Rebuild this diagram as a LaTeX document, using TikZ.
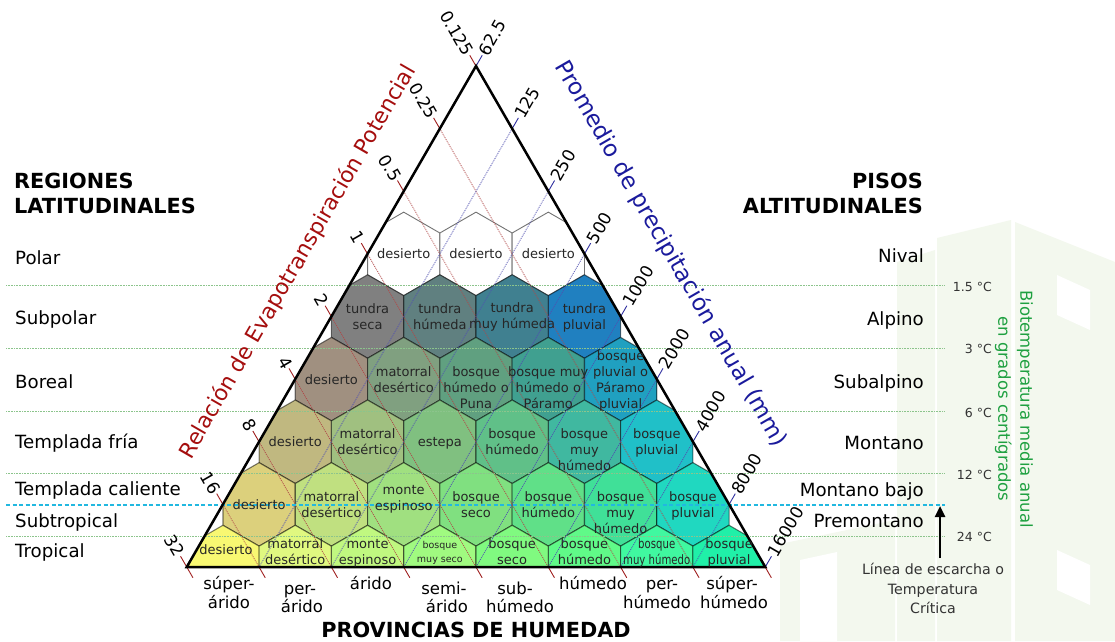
\documentclass[tikz,border=0pt]{standalone}
\usepackage{fontspec}
\setmainfont{DejaVu Sans}
\usepackage{graphicx}
\usetikzlibrary{arrows.meta}
\definecolor{tickred}{HTML}{A02020}
\definecolor{lred}{HTML}{B04848}
\definecolor{tickblue}{HTML}{3030A0}
\definecolor{lblue}{HTML}{5050B0}
\definecolor{titlered}{HTML}{A50E0E}
\definecolor{titleblue}{HTML}{1A1A9C}
\definecolor{gline}{HTML}{8CC48C}
\definecolor{cyanline}{HTML}{22B8E0}
\definecolor{tempgreen}{HTML}{1EA040}
\definecolor{wmark}{HTML}{F3F8EE}
\newcommand\hexfont{\fontsize{13}{16}\selectfont}
\newcommand\hexfontb{\fontsize{13}{15.5}\selectfont}
\newcommand\hexfontc{\fontsize{9.5}{14}\selectfont}
\newcommand\regfont{\fontsize{18.2}{21}\selectfont}
\newcommand\headfont{\fontsize{20.8}{24}\selectfont\bfseries}
\newcommand\tickfont{\fontsize{17}{20}\selectfont}
\newcommand\provfont{\fontsize{16.5}{20}\selectfont}
\newcommand\tempfont{\fontsize{12.5}{15}\selectfont}
\newcommand\notefont{\fontsize{14.2}{19.5}\selectfont}
\newcommand{\hexcell}[4]{%
  \pgfmathsetmacro\hcx{476-(#2+1)*36.15+#3*72.3}%
  \pgfmathsetmacro\hcy{66+(#2+2)*62.625}%
  \definecolor{hexfill}{HTML}{#4}%
  \filldraw[#1, fill=hexfill] (\hcx,\hcy-41.74) -- (\hcx+36.15,\hcy-20.87) -- (\hcx+36.15,\hcy+20.87) -- (\hcx,\hcy+41.74) -- (\hcx-36.15,\hcy+20.87) -- (\hcx-36.15,\hcy-20.87) -- cycle;}
\newcommand{\hexlab}[6][hexlab]{%
  \pgfmathsetmacro\lcx{476-(#2+1)*36.15+#3*72.3}%
  \pgfmathsetmacro\lcy{66+(#2+2)*62.625+#4-7.5}%
  \node[#1] (#5) at (\lcx,\lcy) {\strut #6};}
\begin{document}
\begin{tikzpicture}[x=1pt,y=-1pt,
  hexedge/.style={draw=black, draw opacity=0.5, line width=1.1pt},
  topedge/.style={draw=black!55, line width=0.9pt},
  hexlab/.style={font=\hexfont, align=center, inner sep=0pt, anchor=north, text=black!85},
  hexlabb/.style={hexlab, font=\hexfontb},
  hexlabc/.style={hexlab, font=\hexfontc},
  redline/.style={lred, line width=0.75pt, dash pattern=on 1pt off 1pt},
  blueline/.style={lblue, line width=0.75pt, dash pattern=on 1pt off 1pt},
  redtick/.style={tickred, line width=0.9pt},
  bluetick/.style={tickblue, line width=0.9pt},
  glin/.style={gline, line width=0.8pt, dash pattern=on 0.8pt off 0.8pt},
  cyanl/.style={cyanline, line width=1.3pt, dash pattern=on 4pt off 2.5pt},
  lticklab/.style={font=\tickfont, rotate=-60, anchor=east, inner sep=1pt},
  rticklab/.style={font=\tickfont, rotate=60, anchor=west, inner sep=1pt},
  reglab/.style={font=\regfont, inner sep=0pt},
  headlab/.style={font=\headfont, inner sep=0pt},
  provlab/.style={font=\provfont, inner sep=0pt, anchor=base},
  templab/.style={font=\tempfont, text=black!80, inner sep=0pt, anchor=base east}]
\useasboundingbox (0,0) rectangle (1115,641);
\fill[white] (0,0) rectangle (1115,641);
% faint watermark
\fill[wmark] (897,262) -- (935,250) -- (935,641) -- (897,641) -- cycle;
\fill[wmark] (937,238) -- (1011,220) -- (1011,641) -- (937,641) -- cycle;
\fill[wmark] (1015,222) -- (1115,262) -- (1115,641) -- (1015,641) -- cycle;
\fill[wmark] (780,544) -- (895,520) -- (895,641) -- (780,641) -- cycle;
\fill[white] (1057,275) -- (1090,290) -- (1090,330) -- (1057,315) -- cycle;
\fill[white] (1057,550) -- (1090,565) -- (1090,605) -- (1057,590) -- cycle;
\fill[white] (800,560) -- (837,552) -- (837,641) -- (800,641) -- cycle;
\coordinate (A) at (476,66);
\coordinate (BL) at (186.75,567);
\coordinate (BR) at (765.25,567);
% hexagons
\begin{scope}
\clip (A) -- (BL) -- (BR) -- cycle;
\fill[white] (A) -- (BL) -- (BR) -- cycle;
\foreach \j in {0,1,2} {\hexcell{topedge}{1}{\j}{FFFFFF}}
\foreach \j/\c in {0/808080,1/608080,2/408090,3/2080C0} {\hexcell{hexedge}{2}{\j}{\c}}
\foreach \j/\c in {0/A09080,1/80A080,2/60A080,3/40A090,4/20A0C0} {\hexcell{hexedge}{3}{\j}{\c}}
\foreach \j/\c in {0/C0B880,1/A0C080,2/80C080,3/60C088,4/40B8A0,5/20C0C8} {\hexcell{hexedge}{4}{\j}{\c}}
\foreach \j/\c in {0/DCD07C,1/C0E080,2/A0E080,3/80E080,4/60E088,5/40E098,6/20D8C0} {\hexcell{hexedge}{5}{\j}{\c}}
\foreach \j/\c in {0/F8F872,1/E0F880,2/C0F880,3/A0FA80,4/80FA80,5/60FA88,6/40F8A0,7/20F0A8} {\hexcell{hexedge}{6}{\j}{\c}}
\end{scope}
% red lines (PET ratio)
\foreach \k in {0,...,8} {
  \pgfmathsetmacro\tx{186.75+\k*36.15}
  \pgfmathsetmacro\ty{567-\k*62.625}
  \pgfmathsetmacro\bx{186.75+\k*72.3}
  \coordinate (L\k) at (\tx,\ty);
  \coordinate (LB\k) at (\bx,567);
  \draw[redline] (L\k) -- (LB\k);
  \draw[redtick] (L\k) -- ++(-6.2,-10.74) coordinate (LT\k);
  \draw[redtick] (LB\k) -- ++(6.2,10.74);
}
% blue lines (precipitation)
\foreach \i in {0,...,8} {
  \pgfmathsetmacro\tx{765.25-\i*36.15}
  \pgfmathsetmacro\ty{567-\i*62.625}
  \pgfmathsetmacro\bx{765.25-\i*72.3}
  \coordinate (R\i) at (\tx,\ty);
  \coordinate (RB\i) at (\bx,567);
  \draw[blueline] (R\i) -- (RB\i);
  \draw[bluetick] (R\i) -- ++(6.2,-10.74) coordinate (RT\i);
}
% horizontal lines
\foreach \yy in {285.6,348.3,410.9,473.5,536.1} {\draw[glin] (6,\yy) -- (945,\yy);}
\draw[cyanl] (6,505) -- (945,505);
% triangle
\draw[line width=2.5pt, line join=miter] (A) -- (BL) -- (BR) -- cycle;
% tick labels
\foreach \k/\t in {0/32,1/16,2/8,3/4,4/2,5/1,6/0.5,7/0.25,8/0.125} {\node[lticklab] (lt\k) at (LT\k) {\t};}
\foreach \i/\t in {0/16000,1/8000,2/4000,3/2000,4/1000,5/500,6/250,7/125,8/62.5} {\node[rticklab] (rt\i) at (RT\i) {\t};}
% hexagon labels
\hexlab{1}{0}{1}{h10}{desierto}
\hexlab{1}{1}{1}{h11}{desierto}
\hexlab{1}{2}{1}{h12}{desierto}
\hexlab{2}{0}{-6.5}{h20}{tundra\\seca}
\hexlab{2}{1}{-6.5}{h21}{tundra\\húmeda}
\hexlab{2}{2}{-7.5}{h22}{tundra\\muy húmeda}
\hexlab{2}{3}{-6.5}{h23}{tundra\\pluvial}
\hexlab{3}{0}{1}{h30}{desierto}
\hexlab{3}{1}{-7}{h31}{matorral\\desértico}
\hexlab{3}{2}{-7}{h32}{bosque\\húmedo o\\Puna}
\hexlab{3}{3}{-7}{h33}{bosque muy\\húmedo o\\Páramo}
\hexlab{3}{4}{-23}{h34}{bosque\\pluvial o\\Páramo\\pluvial}
\hexlab{4}{0}{0.5}{h40}{desierto}
\hexlab{4}{1}{-7}{h41}{matorral\\desértico}
\hexlab{4}{2}{0.5}{h42}{estepa}
\hexlab{4}{3}{-7}{h43}{bosque\\húmedo}
\hexlab{4}{4}{-7.5}{h44}{bosque\\muy\\húmedo}
\hexlab{4}{5}{-7}{h45}{bosque\\pluvial}
\hexlab{5}{0}{1.5}{h50}{desierto}
\hexlab{5}{1}{-6.5}{h51}{matorral\\desértico}
\hexlab{5}{2}{-14}{h52}{monte\\espinoso}
\hexlab{5}{3}{-7}{h53}{bosque\\seco}
\hexlab{5}{4}{-7}{h54}{bosque\\húmedo}
\hexlab{5}{5}{-7}{h55}{bosque\\muy\\húmedo}
\hexlab{5}{6}{-7}{h56}{bosque\\pluvial}
\hexlab[hexlabb]{6}{0}{-16}{h60}{\hspace*{6pt}desierto}
\hexlab[hexlabb]{6}{1}{-22}{h61}{matorral\\desértico}
\hexlab[hexlabb]{6}{2}{-22}{h62}{monte\\espinoso}
\hexlab[hexlabc]{6}{3}{-21}{h63}{bosque\\muy seco}
\hexlab[hexlabb]{6}{4}{-22}{h64}{bosque\\seco}
\hexlab[hexlabb]{6}{5}{-22}{h65}{bosque\\húmedo}
\hexlab[hexlabb]{6}{6}{-22}{h66}{\scalebox{0.78}[1]{bosque}\\\scalebox{0.78}[1]{muy húmedo}}
\hexlab[hexlabb]{6}{7}{-22}{h67}{bosque\\pluvial}
% axis titles
\node[font=\fontsize{21.8}{26}\selectfont, text=titlered, rotate=60] (redtitle) at (298,262) {Relación de Evapotranspiración Potencial};
\node[font=\fontsize{23}{27}\selectfont, text=titleblue, rotate=-60] (bluetitle) at (671,254) {Promedio de precipitación anual (mm)};
% headings
\node[headlab, anchor=base west] (reg1) at (14,188) {REGIONES};
\node[headlab, anchor=base west] (reg2) at (14,213.4) {LATITUDINALES};
\node[headlab, anchor=base east] (pis1) at (923,188) {PISOS};
\node[headlab, anchor=base east] (pis2) at (923,213.4) {ALTITUDINALES};
% latitudinal regions
\foreach \n/\yy/\t in {polar/264/Polar, subpolar/324.5/Subpolar, boreal/388/Boreal, tfria/448/Templada fría, tcal/495/Templada caliente, subtrop/527/Subtropical, trop/557/Tropical}
  {\node[reglab, anchor=base west] (\n) at (15,\yy) {\t};}
% altitudinal belts
\foreach \n/\yy/\t in {nival/262.5/Nival, alpino/325/Alpino, subalp/388/Subalpino, montano/449/Montano, mbajo/496/Montano bajo, premont/527/Premontano}
  {\node[reglab, anchor=base east] (\n) at (924,\yy) {\t};}
% temperatures
\foreach \n/\yy/\t in {t1/291/1.5 °C, t2/353.5/3 °C, t3/417/6 °C, t4/479/12 °C, t5/541.5/24 °C}
  {\node[templab] (\n) at (992,\yy) {\t};}
\node[font=\fontsize{16.5}{22}\selectfont, text=tempgreen, rotate=-90, align=center, inner sep=0pt] (biot) at (1014,409) {Biotemperatura media anual\\en grados centígrados};
% frost line note
\node[font=\notefont, text=black!80, align=center, inner sep=0pt, anchor=north] (frost) at (933,561) {\strut Línea de escarcha o\\Temperatura\\Crítica};
\coordinate (arrS) at (940,558);
\coordinate (arrE) at (940,506);
\draw[line width=2.4pt, -{Triangle[width=10pt,length=11pt]}] (arrS) -- (arrE);
% humidity provinces
\node[provlab] (p1a) at (229,589) {súper-};
\node[provlab] (p1b) at (229,608) {árido};
\node[provlab] (p2a) at (300,594) {per-};
\node[provlab] (p2b) at (302,612) {árido};
\node[provlab] (p3a) at (371,589) {árido};
\node[provlab] (p4a) at (444,594) {semi-};
\node[provlab] (p4b) at (447,612) {árido};
\node[provlab] (p5a) at (515,594) {sub-};
\node[provlab] (p5b) at (520,612) {húmedo};
\node[provlab] (p6a) at (593,589) {húmedo};
\node[provlab] (p7a) at (662,589) {per-};
\node[provlab] (p7b) at (657,608) {húmedo};
\node[provlab] (p8a) at (732,589) {súper-};
\node[provlab] (p8b) at (734,608) {húmedo};
\node[headlab, anchor=base] (prov) at (476,637) {PROVINCIAS DE HUMEDAD};
\end{tikzpicture}
\end{document}
